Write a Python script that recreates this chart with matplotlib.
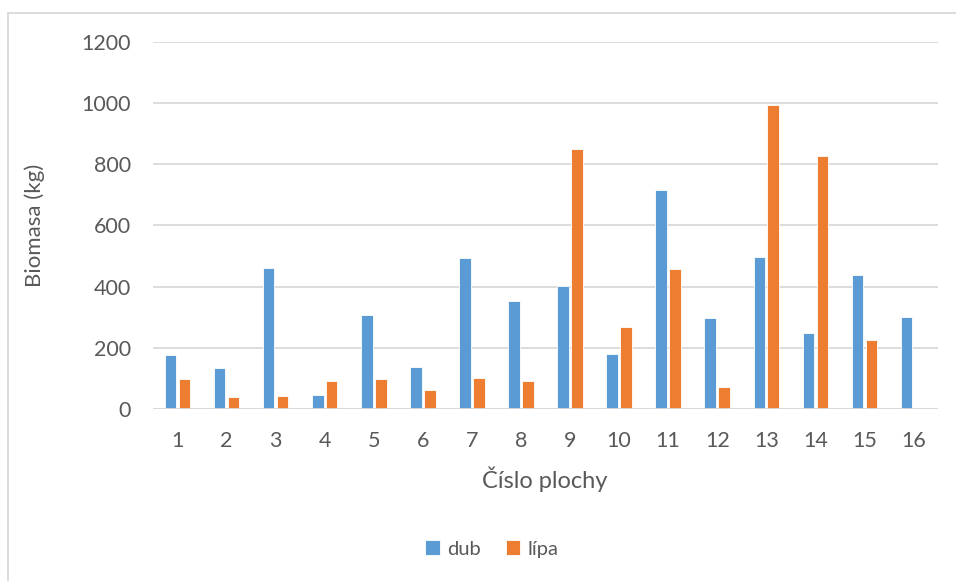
import matplotlib
matplotlib.use("Agg")
import matplotlib.pyplot as plt
import numpy as np
from matplotlib.patches import Rectangle

categories = [str(i) for i in range(1, 17)]
dub = [175, 134, 460, 46, 307, 137, 494, 353, 403, 180, 717, 298, 496, 247, 437, 302]
lipa = [97, 38, 42, 92, 98, 61, 102, 90, 850, 268, 458, 71, 994, 826, 225, 0]
yticks = [0, 200, 400, 600, 800, 1000, 1200]

plt.rcParams['font.family'] = ['Lato', 'DejaVu Sans']
txt = '#595959'

W, H = 956, 581
fig = plt.figure(figsize=(W / 100, H / 100), dpi=100)
ax = fig.add_axes([153 / W, 1 - 409 / H, (938 - 153) / W, (409 - 42) / H])

x = np.arange(len(categories))
bw = 0.235
ax.bar(x - 0.142, dub, bw, color='#5B9BD5', edgecolor='white', linewidth=0.6, label='dub', zorder=3)
ax.bar(x + 0.142, lipa, bw, color='#ED7D31', edgecolor='white', linewidth=0.6, label='lípa', zorder=3)

ax.set_xlim(-0.5, len(categories) - 0.5)
ax.set_ylim(0, 1200)
ax.set_yticks(yticks)
ax.set_yticklabels([str(v) for v in yticks])
ax.set_xticks(x)
ax.set_xticklabels(categories)
ax.grid(axis='y', color='#D9D9D9', linewidth=1.3, zorder=0)
for s in ax.spines.values():
    s.set_visible(False)
ax.axhline(0, color='#D9D9D9', linewidth=1.3, zorder=4)
ax.tick_params(axis='both', length=0, labelsize=15.5, colors=txt)
ax.tick_params(axis='y', pad=16)
ax.tick_params(axis='x', pad=16)

fig.text(35 / W, 1 - 225 / H, 'Biomasa (kg)', rotation=90, ha='center', va='center',
         fontsize=16, color=txt)
fig.text(545 / W, 1 - 479 / H, 'Číslo plochy', ha='center', va='center',
         fontsize=17, color=txt)

leg = fig.legend(loc='center', bbox_to_anchor=(492 / W, 1 - 549 / H), ncol=2, frameon=False,
                 fontsize=14.5, handlelength=0.7, handleheight=0.7, handletextpad=0.4,
                 columnspacing=1.2, labelcolor=txt)

fig.patches.append(Rectangle((8 / W, -0.1), 1.2, 1 - 13 / H + 0.1, transform=fig.transFigure,
                             fill=False, edgecolor='#D9D9D9', linewidth=1.3, zorder=0))

fig.savefig('out.png', dpi=100, facecolor='white')
